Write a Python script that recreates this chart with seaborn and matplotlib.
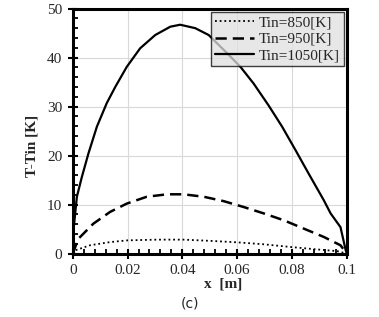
import numpy as np
import matplotlib
matplotlib.use('Agg')
import matplotlib.pyplot as plt
import seaborn as sns
import pandas as pd
from matplotlib.ticker import MultipleLocator

# ==========================================
# DATA
# ==========================================
x_850 = [0.0, 0.0008, 0.0063, 0.0136, 0.02, 0.0307, 0.0404, 0.0502, 0.06, 0.0697,
         0.0795, 0.0892, 0.0965, 0.1]
y_850 = [0.0, 0.65, 1.7, 2.35, 2.7, 2.85, 2.85, 2.6, 2.3, 1.9,
         1.35, 0.85, 0.5, 0.0]

x_950 = [0.0, 0.002, 0.0075, 0.0136, 0.0197, 0.027, 0.0344, 0.0404, 0.0478, 0.0551,
         0.0624, 0.0697, 0.077, 0.0843, 0.0916, 0.0977, 0.1]
y_950 = [0.0, 3.0, 6.1, 8.5, 10.2, 11.6, 12.1, 12.1, 11.6, 10.7,
         9.5, 8.2, 6.8, 5.1, 3.4, 1.7, 0.0]

x_1050 = [0.0, 0.0003, 0.0015, 0.0033, 0.0057, 0.0088, 0.0124, 0.0155, 0.0197, 0.0246,
          0.0301, 0.0356, 0.0392, 0.0447, 0.0496, 0.0563, 0.0612, 0.066, 0.0715, 0.0764,
          0.0813, 0.0861, 0.0916, 0.0941, 0.0977, 0.0996, 0.1]
y_1050 = [0.0, 5.0, 11.6, 15.6, 20.4, 25.9, 30.7, 34.0, 38.1, 41.9,
          44.6, 46.3, 46.7, 46.0, 44.6, 40.9, 38.1, 34.7, 30.2, 25.9,
          21.1, 16.3, 10.9, 8.2, 5.4, 0.7, 0.0]

labels = ['Tin=850[K]', 'Tin=950[K]', 'Tin=1050[K]']

df = pd.concat([
    pd.DataFrame({'x': x_850, 'y': y_850, 'case': labels[0]}),
    pd.DataFrame({'x': x_950, 'y': y_950, 'case': labels[1]}),
    pd.DataFrame({'x': x_1050, 'y': y_1050, 'case': labels[2]}),
])

sns.set_style('white')
plt.rcParams['font.family'] = ['Liberation Serif', 'DejaVu Serif']

fig = plt.figure(figsize=(3.79, 3.17), dpi=100)
ax = fig.add_axes([0.192, 0.2, 0.723, 0.773])

styles = {labels[0]: (0, (1, 1.6)), labels[1]: (0, (4.5, 2.4)), labels[2]: '-'}
widths = {labels[0]: 1.3, labels[1]: 1.8, labels[2]: 1.6}
for lab in labels:
    sub = df[df['case'] == lab]
    sns.lineplot(data=sub, x='x', y='y', ax=ax, color='black', label=lab,
                 linestyle=styles[lab], linewidth=widths[lab], sort=False)

ax.set_xlim(0, 0.1)
ax.set_ylim(0, 50)
ax.set_xticks([0, 0.02, 0.04, 0.06, 0.08, 0.1])
ax.set_xticklabels(['0', '0.02', '0.04', '0.06', '0.08', '0.1'])
ax.xaxis.set_minor_locator(MultipleLocator(0.004))
ax.yaxis.set_major_locator(MultipleLocator(10))
ax.yaxis.set_minor_locator(MultipleLocator(2))

ax.grid(True, which='major', color='#d9d9d9', linewidth=0.8)
for s in ax.spines.values():
    s.set_color('black')
    s.set_linewidth(2.2)
ax.tick_params(which='major', direction='inout', length=7, width=1.5, labelsize=11, pad=4, color='black')
ax.tick_params(which='minor', direction='in', length=3.5, width=1.3, color='black')
ax.tick_params(bottom=True, left=True, which='both')

ax.set_xlabel('x  [m]', fontsize=11, fontweight='bold', labelpad=0)
ax.xaxis.set_label_coords(0.55, -0.097)
ax.set_ylabel('T-Tin [K]', fontsize=11, fontweight='bold')
ax.yaxis.set_label_coords(-0.125, 0.44)

leg = ax.legend(loc='upper right', fontsize=11, frameon=True, fancybox=False,
                handlelength=2.6, handletextpad=0.3, labelspacing=0.2,
                borderpad=0.25, borderaxespad=0.2, edgecolor='black')
leg.get_frame().set_facecolor('#e0e0e0')
leg.get_frame().set_alpha(0.75)
leg.get_frame().set_linewidth(1.0)

fig.text(0.502, 0.044, '(c)', ha='center', va='center', fontsize=10,
         family=['DejaVu Sans'])

fig.savefig('out.png', dpi=100)
